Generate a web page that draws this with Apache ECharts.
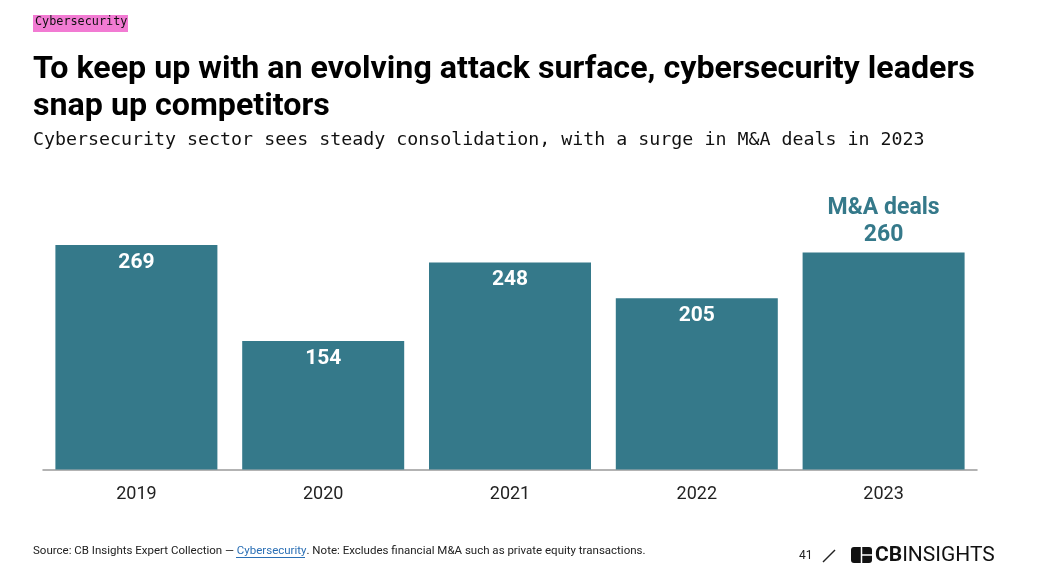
<!DOCTYPE html>
<html>
<head>
<meta charset="utf-8">
<script src="https://cdn.jsdelivr.net/npm/echarts@6/dist/echarts.min.js"></script>
<style>
html,body{margin:0;padding:0;background:#fff;}
#chart{width:1040px;height:580px;}
</style>
</head>
<body>
<div id="chart"></div>
<script>
const categories = ['2019', '2020', '2021', '2022', '2023'];
const dealCounts = [269, 154, 248, 205, 260];
const seriesName = 'M&A deals';

const teal = '#35798a';
const chart = echarts.init(document.getElementById('chart'), null, {renderer: 'canvas'});

const data = dealCounts.map((v, i) => {
  if (i === dealCounts.length - 1) {
    return {
      value: v,
      label: {
        position: 'top',
        distance: 4,
        color: teal,
        fontSize: 23,
        lineHeight: 27,
        fontWeight: 'bold',
        formatter: seriesName + '\n{c}'
      }
    };
  }
  return v;
});

const option = {
  animation: false,
  grid: {left: 43, right: 63, top: 219, bottom: 110.5, containLabel: false},
  xAxis: {
    type: 'category',
    data: categories,
    axisLine: {lineStyle: {color: '#9a9a9a', width: 1.5}},
    axisTick: {show: false},
    axisLabel: {color: '#222', fontSize: 18, fontFamily: 'Roboto', margin: 16}
  },
  yAxis: {
    type: 'value',
    min: 0,
    max: 300,
    show: false,
    splitLine: {show: false}
  },
  series: [{
    name: seriesName,
    type: 'bar',
    data: data,
    barWidth: 162,
    itemStyle: {color: teal},
    label: {
      show: true,
      position: 'insideTop',
      distance: 7,
      color: '#fff',
      fontSize: 21,
      fontWeight: 'bold',
      fontFamily: 'Roboto'
    }
  }],
  textStyle: {fontFamily: 'Roboto'},
  graphic: [
    {type: 'rect', shape: {x: 33, y: 15, width: 95, height: 17}, style: {fill: '#f27bd3'}},
    {type: 'text', x: 35, y: 16, style: {text: 'Cybersecurity', font: '11.8px "DejaVu Sans Mono"', fill: '#111'}},
    {type: 'text', x: 33, y: 51, style: {text: 'To keep up with an evolving attack surface, cybersecurity leaders\nsnap up competitors', font: 'bold 32.2px Roboto', lineHeight: 37, fill: '#000'}},
    {type: 'text', x: 33, y: 131, style: {text: 'Cybersecurity sector sees steady consolidation, with a surge in M&A deals in 2023', font: '18.3px "DejaVu Sans Mono"', fill: '#111'}},
    {type: 'text', x: 33, y: 545, style: {
      text: '{a|Source: CB Insights Expert Collection — }{l|Cybersecurity}{a|. Note: Excludes financial M&A such as private equity transactions.}',
      rich: {
        a: {fontSize: 11.5, fontFamily: 'Roboto', fill: '#222', color: '#222'},
        l: {fontSize: 11.5, fontFamily: 'Roboto', fill: '#2a6fb5', color: '#2a6fb5'}
      }
    }},
    {type: 'line', shape: {x1: 236, y1: 557.5, x2: 305, y2: 557.5}, style: {stroke: '#2a6fb5', lineWidth: 1}},
    {type: 'text', x: 799, y: 550, style: {text: '41', font: '12px Roboto', fill: '#222'}},
    {type: 'line', shape: {x1: 823, y1: 562, x2: 835, y2: 550}, style: {stroke: '#222', lineWidth: 1.5}},
    {type: 'rect', shape: {x: 851, y: 547, width: 21, height: 16, r: 3}, style: {fill: '#111'}},
    {type: 'line', shape: {x1: 861.5, y1: 547, x2: 861.5, y2: 563}, style: {stroke: '#fff', lineWidth: 1.5}},
    {type: 'line', shape: {x1: 861.5, y1: 555, x2: 872, y2: 555}, style: {stroke: '#fff', lineWidth: 1.5}},
    {type: 'text', x: 875, y: 545, style: {
      text: '{b|CB}{n|INSIGHTS}',
      rich: {
        b: {fontSize: 21, fontWeight: 'bold', fontFamily: 'Roboto', fill: '#111', color: '#111'},
        n: {fontSize: 21, fontWeight: 'normal', fontFamily: 'Roboto', fill: '#111', color: '#111'}
      }
    }}
  ]
};
chart.setOption(option);
</script>
</body>
</html>
